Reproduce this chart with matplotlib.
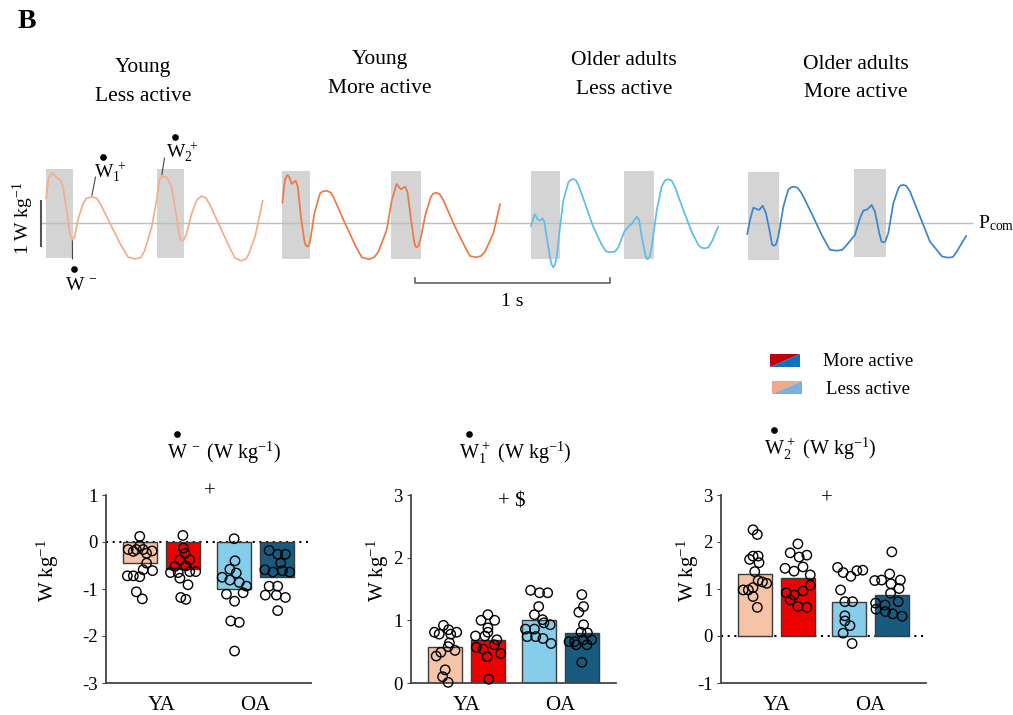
import numpy as np
import matplotlib.pyplot as plt
from matplotlib.patches import Rectangle, Polygon
from matplotlib.lines import Line2D

plt.rcParams['font.family'] = ['Liberation Serif', 'DejaVu Serif']
plt.rcParams['mathtext.fontset'] = 'custom'
plt.rcParams['mathtext.rm'] = 'Liberation Serif'
plt.rcParams['mathtext.it'] = 'Liberation Serif:italic'
plt.rcParams['mathtext.bf'] = 'Liberation Serif:bold'
plt.rcParams['axes.unicode_minus'] = False

# ---------------- top: example P_com traces (time in s, power in W/kg) ----------------
yl_t = [0.031, 0.044, 0.060, 0.069, 0.077, 0.103, 0.116, 0.137, 0.150, 0.159, 0.166, 0.172, 0.179,
        0.196, 0.222, 0.238, 0.265, 0.292, 0.308, 0.359, 0.410, 0.451, 0.487, 0.518, 0.538, 0.573,
        0.598, 0.612, 0.624, 0.650, 0.675, 0.697, 0.714, 0.722, 0.730, 0.738, 0.752, 0.778, 0.804,
        0.829, 0.851, 0.872, 0.923, 0.974, 1.000, 1.031, 1.056, 1.068, 1.103, 1.142]
yl_p = [0.526, 0.957, 1.057, 1.043, 1.000, 0.915, 0.809, 0.277, -0.149, -0.309, -0.347, -0.330, -0.255,
        0.100, 0.419, 0.521, 0.560, 0.521, 0.419, -0.006, -0.432, -0.723, -0.766, -0.734, -0.574, -0.079,
        0.489, 0.915, 1.000, 0.972, 0.772, 0.206, -0.255, -0.351, -0.377, -0.357, -0.219, 0.206, 0.489,
        0.574, 0.532, 0.383, -0.079, -0.538, -0.745, -0.802, -0.766, -0.681, -0.291, 0.474]

ym_t = [1.243, 1.256, 1.264, 1.270, 1.279, 1.291, 1.311, 1.322, 1.338, 1.355, 1.362, 1.371, 1.379,
        1.385, 1.407, 1.436, 1.449, 1.470, 1.490, 1.504, 1.564, 1.624, 1.651, 1.689, 1.715, 1.735,
        1.778, 1.804, 1.829, 1.850, 1.872, 1.884, 1.903, 1.919, 1.925, 1.932, 1.941, 1.952, 1.978,
        2.005, 2.015, 2.031, 2.049, 2.068, 2.128, 2.179, 2.205, 2.236, 2.262, 2.282, 2.325, 2.359]
ym_p = [0.432, 0.915, 0.989, 1.021, 0.968, 0.830, 0.900, 0.772, 0.134, -0.362, -0.468, -0.504, -0.479,
        -0.398, 0.206, 0.632, 0.670, 0.687, 0.649, 0.560, -0.006, -0.538, -0.734, -0.772, -0.723, -0.611,
        -0.149, 0.489, 0.830, 0.717, 0.772, 0.666, 0.064, -0.398, -0.500, -0.517, -0.489, -0.326, 0.206,
        0.560, 0.621, 0.645, 0.617, 0.489, -0.079, -0.504, -0.702, -0.730, -0.702, -0.611, -0.219, 0.398]

ol_t = [2.518, 2.530, 2.538, 2.552, 2.564, 2.576, 2.586, 2.598, 2.615, 2.623, 2.632, 2.641, 2.650,
        2.667, 2.684, 2.709, 2.721, 2.735, 2.749, 2.761, 2.795, 2.837, 2.881, 2.903, 2.928, 2.949,
        2.966, 2.996, 3.017, 3.037, 3.060, 3.072, 3.086, 3.103, 3.109, 3.116, 3.126, 3.137, 3.163,
        3.188, 3.205, 3.222, 3.238, 3.256, 3.299, 3.342, 3.376, 3.392, 3.410, 3.427, 3.445, 3.478]
ol_p = [-0.064, 0.100, 0.185, 0.079, 0.049, 0.100, 0.028, -0.291, -0.717, -0.872, -0.943, -0.883, -0.717,
        -0.079, 0.489, 0.857, 0.919, 0.936, 0.904, 0.809, 0.419, -0.079, -0.468, -0.606, -0.623, -0.606,
        -0.517, -0.185, -0.079, -0.006, 0.134, 0.064, -0.291, -0.645, -0.734, -0.772, -0.723, -0.504, 0.277,
        0.772, 0.909, 0.930, 0.909, 0.772, 0.277, -0.185, -0.468, -0.526, -0.538, -0.521, -0.398, -0.079]

om_t = [3.627, 3.641, 3.658, 3.675, 3.688, 3.706, 3.723, 3.744, 3.754, 3.764, 3.774, 3.786, 3.812,
        3.837, 3.849, 3.867, 3.885, 3.906, 3.957, 4.009, 4.051, 4.086, 4.113, 4.137, 4.179, 4.205,
        4.222, 4.243, 4.265, 4.282, 4.304, 4.315, 4.325, 4.335, 4.350, 4.376, 4.402, 4.413, 4.427,
        4.442, 4.462, 4.513, 4.564, 4.626, 4.658, 4.682, 4.701, 4.749]
om_p = [-0.234, 0.064, 0.326, 0.298, 0.277, 0.368, 0.206, -0.219, -0.457, -0.483, -0.457, -0.291, 0.347,
        0.702, 0.755, 0.772, 0.749, 0.632, 0.206, -0.255, -0.570, -0.589, -0.574, -0.468, -0.255, 0.100,
        0.262, 0.291, 0.383, 0.240, -0.219, -0.394, -0.411, -0.394, -0.219, 0.419, 0.738, 0.798, 0.809,
        0.791, 0.666, 0.134, -0.398, -0.713, -0.738, -0.723, -0.611, -0.277]

trace_colors = ['#F4AD8A', '#EB7A44', '#5CBDE8', '#3A86CB']
group_titles = ['Young\nLess active', 'Young\nMore active', 'Older adults\nLess active', 'Older adults\nMore active']

# push-off windows (t start, t end, P low, P high)
win_t0 = [0.029, 0.600, 1.239, 1.798, 2.516, 2.995, 3.629, 4.176]
win_t1 = [0.168, 0.740, 1.385, 1.952, 2.668, 3.147, 3.790, 4.338]
win_lo = [-0.738, -0.738, -0.766, -0.766, -0.766, -0.766, -0.794, -0.730]
win_hi = [1.143, 1.143, 1.113, 1.113, 1.113, 1.113, 1.085, 1.155]

base_t = [0.005, 4.785]
time_bar = [1.923, 2.923]
power_bar = [-0.511, 0.489]

# ---------------- bottom: bar charts ----------------
bar_x = [1, 2, 3.2, 4.2]
bar_colors = ['#F5C4A6', '#EC0000', '#86CDEB', '#175C80']

wneg_mean = [-0.45, -0.58, -1.00, -0.74]
wneg_vals = [
    [0.12, -0.16, -0.20, -0.16, -0.08, -0.16, -0.24, -0.19, -0.45, -0.59, -0.61, -0.72, -0.72, -0.74, -1.06, -1.21],
    [0.14, -0.13, -0.24, -0.38, -0.38, -0.52, -0.51, -0.65, -0.65, -0.63, -0.63, -0.77, -0.91, -1.18, -1.22],
    [0.07, -0.40, -0.58, -0.66, -0.75, -0.81, -0.86, -0.94, -1.11, -1.08, -1.26, -1.68, -1.71, -2.32],
    [-0.18, -0.26, -0.26, -0.45, -0.59, -0.64, -0.61, -0.64, -0.94, -0.94, -1.13, -1.13, -1.18, -1.46]]
wneg_jit = [
    [-0.01, -0.28, -0.16, -0.09, -0.01, 0.07, 0.15, 0.28, 0.15, 0.07, 0.29, -0.30, -0.16, -0.01, -0.09, 0.05],
    [0.0, 0.01, 0.05, -0.07, 0.16, -0.19, 0.07, -0.29, -0.11, 0.16, 0.30, -0.07, 0.12, -0.05, 0.07],
    [0.0, 0.02, -0.10, 0.05, -0.28, -0.10, 0.12, 0.29, -0.18, 0.21, 0.01, -0.08, 0.12, 0.01],
    [-0.18, 0.02, 0.20, 0.09, -0.28, -0.09, 0.13, 0.30, -0.18, 0.02, -0.27, -0.01, 0.20, 0.02]]

w1_mean = [0.57, 0.685, 1.01, 0.80]
w1_vals = [
    [0.81, 0.78, 0.92, 0.85, 0.81, 0.78, 0.64, 0.58, 0.52, 0.49, 0.43, 0.21, 0.10, 0.01],
    [1.00, 1.09, 1.00, 0.88, 0.75, 0.75, 0.81, 0.69, 0.57, 0.54, 0.61, 0.47, 0.42, 0.06],
    [1.48, 1.44, 1.44, 1.22, 1.09, 1.01, 0.93, 0.96, 0.86, 0.86, 0.71, 0.63, 0.74, 0.74],
    [1.41, 1.22, 1.13, 0.93, 0.81, 0.80, 0.66, 0.66, 0.69, 0.69, 0.61, 0.61, 0.33]]
w1_jit = [
    [-0.25, -0.14, -0.04, 0.08, 0.27, 0.13, 0.10, 0.07, 0.23, -0.10, -0.21, 0.00, -0.06, 0.07],
    [-0.16, 0.00, 0.16, 0.00, -0.29, -0.07, 0.00, 0.21, -0.27, -0.11, 0.15, 0.30, -0.02, 0.02],
    [-0.20, 0.01, 0.20, -0.01, -0.11, 0.08, 0.26, 0.11, -0.32, -0.11, 0.09, 0.28, -0.28, -0.08],
    [0.0, 0.04, -0.07, 0.04, -0.02, 0.13, -0.30, -0.17, 0.04, 0.23, -0.13, 0.12, 0.0]]

w2_mean = [1.31, 1.225, 0.73, 0.87]
w2_vals = [
    [2.26, 2.16, 1.70, 1.70, 1.63, 1.56, 1.37, 1.18, 1.12, 1.15, 0.98, 0.98, 1.03, 0.84, 0.61],
    [1.96, 1.77, 1.68, 1.72, 1.44, 1.38, 1.47, 1.30, 0.92, 0.87, 0.96, 1.08, 0.77, 0.63, 0.61],
    [1.46, 1.35, 1.27, 1.39, 1.40, 0.98, 0.73, 0.73, 0.43, 0.32, 0.22, 0.06, -0.16],
    [1.79, 1.19, 1.32, 1.19, 1.18, 1.11, 1.01, 0.91, 0.70, 0.66, 0.73, 0.57, 0.52, 0.47, 0.42]]
w2_jit = [
    [-0.05, 0.05, -0.05, 0.07, -0.13, 0.09, -0.01, 0.07, 0.27, 0.17, -0.28, -0.16, -0.05, -0.05, 0.05],
    [0.0, -0.18, 0.03, 0.21, -0.30, -0.09, 0.12, 0.29, -0.27, -0.09, 0.12, 0.29, -0.18, 0.0, 0.21],
    [-0.27, -0.14, 0.04, 0.18, 0.32, -0.20, -0.10, 0.08, -0.10, -0.10, 0.02, -0.14, 0.07],
    [0.0, -0.24, -0.05, 0.20, -0.40, -0.02, 0.17, -0.03, -0.38, -0.16, 0.15, -0.37, -0.15, 0.02, 0.24]]

W = 1013
H = 715
fig = plt.figure(figsize=(W / 100, H / 100), dpi=100)


def fx(px):
    return px / W


def fy(py):
    return 1 - py / H


def wdot(x, y, rest, size=14, dot_dx=9, dot_dy=21):
    # "W" with a bullet above it; x = left edge of W, y = baseline (pixels from top-left)
    fig.text(fx(x), fy(y), 'W' + rest, ha='left', va='baseline', fontsize=size)
    fig.add_artist(Line2D([fx(x + dot_dx)], [fy(y - dot_dy)], marker='o', ms=3.8, color='black',
                          transform=fig.transFigure))


# ---- top traces ----
ax = fig.add_axes([0, fy(310), 1, 180 / H])
ax.set_xlim(-40 / 195, (W - 40) / 195)
ax.set_ylim((223 - 310) / 47, (223 - 130) / 47)
ax.axis('off')

for i in range(len(win_t0)):
    ax.add_patch(Rectangle((win_t0[i], win_lo[i]), win_t1[i] - win_t0[i], win_hi[i] - win_lo[i],
                           facecolor='#d4d4d4', edgecolor='none', zorder=1))
ax.hlines(0, base_t[0], base_t[1], color='#bdbdbd', lw=1.0, zorder=2)
for t, p, c in zip([yl_t, ym_t, ol_t, om_t], [yl_p, ym_p, ol_p, om_p], trace_colors):
    ax.plot(t, p, color=c, lw=1.25, zorder=3, solid_joinstyle='round')

# scale bars
ax.vlines(base_t[0], power_bar[0], power_bar[1], color='#555555', lw=1.5)
ax.plot([time_bar[0], time_bar[0], time_bar[1], time_bar[1]], [-1.16, -1.277, -1.277, -1.16],
        color='#555555', lw=1.1)
ax.text(np.mean(time_bar), -1.66, '1 s', ha='center', va='center', fontsize=14)
ax.text(base_t[1] + 0.025, 0, r'P$_{\mathrm{com}}$', ha='left', va='center', fontsize=14)
fig.text(fx(23), fy(218), r'1 W kg$^{-1}$', rotation=90, ha='center', va='center', fontsize=14)

# W-dot labels and leader lines on the first trace
wdot(94, 178, r'$_{1}^{\;+}$')
wdot(166, 158, r'$_{2}^{\;+}$')
wdot(65, 290, r'$^{\;-}$')
ax.annotate('', xy=(yl_t[16], yl_p[16]), xytext=((95.5 - 40) / 195, (223 - 177) / 47),
            arrowprops=dict(arrowstyle='-', color='#444444', lw=0.8, shrinkA=0, shrinkB=1))
ax.annotate('', xy=(yl_t[28], yl_p[28]), xytext=((164.5 - 40) / 195, (223 - 158) / 47),
            arrowprops=dict(arrowstyle='-', color='#444444', lw=0.8, shrinkA=0, shrinkB=1))
ax.annotate('', xy=(yl_t[10], yl_p[10]), xytext=((72.5 - 40) / 195, (223 - 259) / 47),
            arrowprops=dict(arrowstyle='-', color='#444444', lw=0.8, shrinkA=0, shrinkB=1))

for title, xc, yc in zip(group_titles, [143, 380, 624, 856], [82, 74, 75, 78.5]):
    fig.text(fx(xc), fy(yc), title, ha='center', va='center', fontsize=15.5, linespacing=1.7)

fig.text(fx(18), fy(22), 'B', fontsize=20, fontweight='bold', ha='left', va='center')

# ---- legend swatches ----
legend_labels = ['More active', 'Less active']
legend_cols = [('#C0000B', '#1071C2'), ('#F1A888', '#7AAFE2')]
for k, (lab, cols) in enumerate(zip(legend_labels, legend_cols)):
    y0, y1 = 367 + 27 * k, 354 + 27 * k
    x0, x1 = 770 + 2 * k, 800 + 2 * k
    fig.patches.append(Polygon([(fx(x0), fy(y0)), (fx(x0), fy(y1)), (fx(x1), fy(y1))], closed=True,
                               transform=fig.transFigure, facecolor=cols[0], edgecolor='none'))
    fig.patches.append(Polygon([(fx(x0), fy(y0)), (fx(x1), fy(y1)), (fx(x1), fy(y0))], closed=True,
                               transform=fig.transFigure, facecolor=cols[1], edgecolor='none'))
    fig.text(fx(823 + 3 * k), fy(361 + 28 * k), lab, ha='left', va='center', fontsize=13.5)

# ---- bar panels ----
panels = [
    dict(left=106, means=wneg_mean, vals=wneg_vals, jit=wneg_jit, ylim=(-3, 1), ticks=[-3, -2, -1, 0, 1],
         rest=r'$^{\;-}$ (W kg$^{-1}$)', tx=167, ty=459, sig='+', sx=2.63, sy=1.07, lx=-0.22),
    dict(left=411, means=w1_mean, vals=w1_vals, jit=w1_jit, ylim=(0, 3), ticks=[0, 1, 2, 3],
         rest=r'$_{1}^{\,+}$ (W kg$^{-1}$)', tx=459, ty=459, sig='+ $', sx=2.56, sy=2.89, lx=-0.10),
    dict(left=721, means=w2_mean, vals=w2_vals, jit=w2_jit, ylim=(-1, 3), ticks=[-1, 0, 1, 2, 3],
         rest=r'$_{2}^{\,+}$ (W kg$^{-1}$)', tx=764, ty=455, sig='+', sx=2.67, sy=2.92, lx=-0.10),
]

for pn in panels:
    bx = fig.add_axes([fx(pn['left']), fy(683), 205 / W, 188 / H])
    bx.set_xlim(0.2, 5.0)
    bx.set_ylim(*pn['ylim'])
    bx.bar(bar_x, pn['means'], width=0.8, color=bar_colors, edgecolor='#3a3a3a', lw=1.0, zorder=2)
    for xc, v, j in zip(bar_x, pn['vals'], pn['jit']):
        bx.scatter(xc + np.array(j), v, s=46, facecolors='none', edgecolors='black', lw=1.0, zorder=3,
                   clip_on=False)
    if pn['ylim'][0] < 0:
        bx.axhline(0, color='black', ls=(0, (1, 2.2)), lw=1.5, zorder=1, clip_on=False)
    for s in ['top', 'right']:
        bx.spines[s].set_visible(False)
    for s in ['left', 'bottom']:
        bx.spines[s].set_color('#444444')
        bx.spines[s].set_linewidth(1.3)
    bx.set_yticks(pn['ticks'])
    bx.tick_params(axis='y', labelsize=13.5, length=3, color='#444444', pad=3)
    bx.set_xticks([1.5, 3.7])
    bx.set_xticklabels(['YA', 'OA'])
    bx.tick_params(axis='x', labelsize=15, length=0, pad=9)
    bx.set_ylabel(r'W kg$^{-1}$', fontsize=15)
    bx.yaxis.set_label_coords(pn['lx'], 0.6)
    bx.text(pn['sx'], pn['sy'], pn['sig'], ha='center', va='center', fontsize=15)
    wdot(pn['tx'], pn['ty'], pn['rest'], size=14.5, dot_dx=9.5, dot_dy=25)

fig.savefig('out.png', dpi=100)
